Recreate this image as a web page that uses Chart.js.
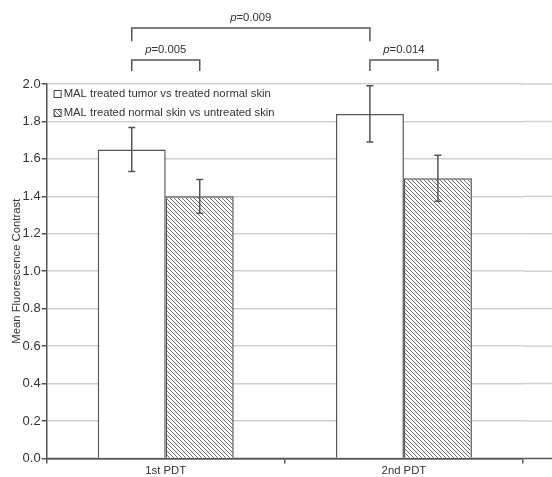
<!DOCTYPE html>
<html>
<head>
<meta charset="utf-8">
<script src="https://cdn.jsdelivr.net/npm/chart.js@4.4.1/dist/chart.umd.min.js"></script>
<style>
  html, body { margin: 0; padding: 0; background: #fff; overflow: hidden; }
  #wrap { width: 552px; height: 480px; }
</style>
</head>
<body>
<div id="wrap"><canvas id="graphique"></canvas></div>
<script>
// donnees
const categories = ['1st PDT', '2nd PDT'];
const serie_labels = ['MAL treated tumor vs treated normal skin', 'MAL treated normal skin vs untreated skin'];
const tumor_values = [1.65, 1.84];
const tumor_errors = [0.117, 0.15];
const normal_values = [1.40, 1.497];
const normal_errors = [0.09, 0.123];
const y_ticks = [0, 0.2, 0.4, 0.6, 0.8, 1.0, 1.2, 1.4, 1.6, 1.8, 2.0];

// comparaisons : [dataset, index] -> [dataset, index]
const p_labels = ['0.009', '0.005', '0.014'];
const p_pairs = [[[0, 0], [0, 1]], [[0, 0], [1, 0]], [[0, 1], [1, 1]]];

const fontFamily = '"Liberation Sans", Arial, sans-serif';
const smallSize = 11.3;
const textColor = '#333';
const lineColor = '#555';

// motif hachure
function getHatch() {
  const c = document.createElement('canvas');
  c.width = 4;
  c.height = 4;
  const g = c.getContext('2d');
  g.fillStyle = '#fff';
  g.fillRect(0, 0, 4, 4);
  g.strokeStyle = '#6e6e6e';
  g.lineWidth = 1;
  g.beginPath();
  g.moveTo(-1, -1); g.lineTo(5, 5);
  g.moveTo(-1, 3); g.lineTo(1, 5);
  g.moveTo(3, -1); g.lineTo(5, 1);
  g.stroke();
  return g.createPattern(c, 'repeat');
}
const hatch = getHatch();

// grille et axe prolonges jusqu'au bord droit
const extendGrid = {
  id: 'extendGrid',
  beforeDatasetsDraw(chart) {
    const ctx = chart.ctx, area = chart.chartArea, y = chart.scales.y;
    ctx.save();
    ctx.strokeStyle = '#d0d0d0';
    ctx.lineWidth = 1.5;
    y_ticks.forEach(v => {
      if (v === 0) return;
      const py = y.getPixelForValue(v);
      ctx.beginPath();
      ctx.moveTo(area.right, py);
      ctx.lineTo(chart.width, py);
      ctx.stroke();
    });
    ctx.strokeStyle = lineColor;
    ctx.beginPath();
    ctx.moveTo(area.left, y.getPixelForValue(0));
    ctx.lineTo(chart.width, y.getPixelForValue(0));
    ctx.stroke();
    ctx.restore();
  }
};

// barres d'erreur
const errorBars = {
  id: 'errorBars',
  afterDatasetsDraw(chart) {
    const ctx = chart.ctx, y = chart.scales.y;
    const errs = [tumor_errors, normal_errors];
    const vals = [tumor_values, normal_values];
    ctx.save();
    ctx.strokeStyle = lineColor;
    ctx.lineWidth = 1.5;
    chart.data.datasets.forEach((ds, i) => {
      chart.getDatasetMeta(i).data.forEach((bar, j) => {
        const top = y.getPixelForValue(vals[i][j] + errs[i][j]);
        const bot = y.getPixelForValue(vals[i][j] - errs[i][j]);
        ctx.beginPath();
        ctx.moveTo(bar.x, top); ctx.lineTo(bar.x, bot);
        ctx.moveTo(bar.x - 3.5, top); ctx.lineTo(bar.x + 3.5, top);
        ctx.moveTo(bar.x - 3.5, bot); ctx.lineTo(bar.x + 3.5, bot);
        ctx.stroke();
      });
    });
    ctx.restore();
  }
};

// crochets de significativite
const brackets = {
  id: 'brackets',
  afterDraw(chart) {
    const ctx = chart.ctx, y = chart.scales.y;
    const levels = [[2.299, 2.229], [2.128, 2.069], [2.128, 2.069]];
    ctx.save();
    ctx.strokeStyle = lineColor;
    ctx.lineWidth = 1.5;
    ctx.fillStyle = textColor;
    ctx.textBaseline = 'middle';
    p_pairs.forEach((pair, k) => {
      const x1 = chart.getDatasetMeta(pair[0][0]).data[pair[0][1]].x;
      const x2 = chart.getDatasetMeta(pair[1][0]).data[pair[1][1]].x;
      const yl = y.getPixelForValue(levels[k][0]);
      const ye = y.getPixelForValue(levels[k][1]);
      ctx.beginPath();
      ctx.moveTo(x1, ye); ctx.lineTo(x1, yl); ctx.lineTo(x2, yl); ctx.lineTo(x2, ye);
      ctx.stroke();
      // texte p=...
      const ty = yl - 10;
      ctx.font = 'italic ' + smallSize + 'px ' + fontFamily;
      const w1 = ctx.measureText('p').width;
      ctx.font = smallSize + 'px ' + fontFamily;
      const w2 = ctx.measureText('=' + p_labels[k]).width;
      const x0 = (x1 + x2) / 2 - (w1 + w2) / 2;
      ctx.textAlign = 'left';
      ctx.font = 'italic ' + smallSize + 'px ' + fontFamily;
      ctx.fillText('p', x0, ty);
      ctx.font = smallSize + 'px ' + fontFamily;
      ctx.fillText('=' + p_labels[k], x0 + w1, ty);
    });
    ctx.restore();
  }
};

// legende dans la zone du graphique
const innerLegend = {
  id: 'innerLegend',
  afterDraw(chart) {
    const ctx = chart.ctx, area = chart.chartArea;
    ctx.save();
    ctx.font = smallSize + 'px ' + fontFamily;
    ctx.textBaseline = 'middle';
    ctx.textAlign = 'left';
    chart.data.datasets.forEach((ds, i) => {
      const cy = area.top + 10 + i * 19;
      const bx = area.left + 7;
      ctx.fillStyle = ds.backgroundColor;
      ctx.fillRect(bx, cy - 4, 8, 8);
      ctx.strokeStyle = '#444';
      ctx.lineWidth = 1;
      ctx.strokeRect(bx + 0.5, cy - 3.5, 7, 7);
      ctx.fillStyle = textColor;
      ctx.fillText(ds.label, bx + 10, cy);
    });
    ctx.restore();
  }
};

const graph = document.getElementById('graphique');

new Chart(graph, {
  type: 'bar',
  data: {
    labels: categories,
    datasets: [{
      label: serie_labels[0],
      data: tumor_values,
      backgroundColor: '#ffffff',
      borderColor: lineColor,
      borderWidth: 1.5,
      categoryPercentage: 0.571,
      barPercentage: 1.0
    }, {
      label: serie_labels[1],
      data: normal_values,
      backgroundColor: hatch,
      borderColor: lineColor,
      borderWidth: 1.5,
      categoryPercentage: 0.571,
      barPercentage: 1.0
    }]
  },
  options: {
    responsive: true,
    maintainAspectRatio: false,
    animation: false,
    layout: { padding: { top: 84, right: 29, left: 7, bottom: 1 } },
    plugins: {
      legend: { display: false },
      tooltip: { enabled: false }
    },
    scales: {
      x: {
        offset: true,
        grid: { display: true, drawOnChartArea: false, offset: true, color: lineColor, lineWidth: 1.5, tickLength: 5 },
        border: { display: true, color: lineColor, width: 1.5 },
        ticks: { color: textColor, font: { family: fontFamily, size: smallSize }, padding: 1 }
      },
      y: {
        min: 0,
        max: 2,
        afterBuildTicks: scale => { scale.ticks = y_ticks.map(v => ({ value: v })); },
        grid: { color: '#d0d0d0', lineWidth: 1.5, tickLength: 5, tickColor: lineColor },
        border: { display: true, color: lineColor, width: 1.5 },
        ticks: {
          color: textColor,
          font: { family: fontFamily, size: 13 },
          padding: 1,
          callback: v => Number(v).toFixed(1)
        },
        title: {
          display: true,
          text: 'Mean Fluorescence Contrast',
          color: textColor,
          font: { family: fontFamily, size: smallSize },
          padding: { top: 3, bottom: -2 }
        }
      }
    }
  },
  plugins: [extendGrid, errorBars, brackets, innerLegend]
});
</script>
</body>
</html>
